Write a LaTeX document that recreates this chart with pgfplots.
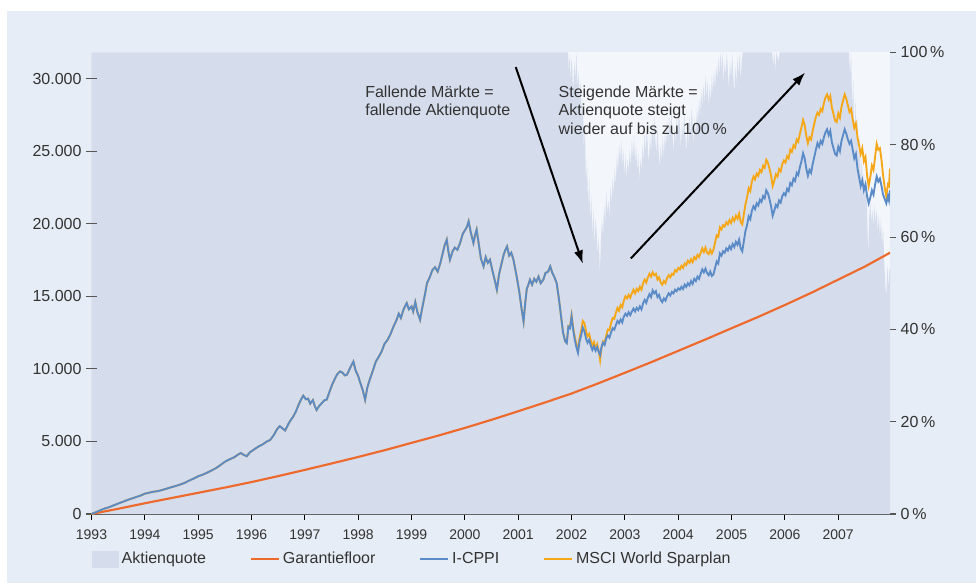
\documentclass[border=0pt]{standalone}
\usepackage{pgfplots}
\pgfplotsset{compat=1.18}
\usepackage{pgfplotstable}
\usepackage{fontspec}
\setmainfont{Liberation Sans}
\usetikzlibrary{arrows.meta}
\definecolor{panel}{HTML}{E7EDF6}
\definecolor{plotbg}{HTML}{F3F6FB}
\definecolor{quotefill}{HTML}{D5DCEB}
\definecolor{cppiblue}{HTML}{5A8BC7}
\definecolor{msciorange}{HTML}{F6A718}
\definecolor{floorred}{HTML}{EE6A2C}
\definecolor{textgray}{HTML}{333333}
\definecolor{axisgray}{HTML}{555555}

\pgfplotstableread{
x cppi msci
1993.00 0 0
1993.08 120 120
1993.17 260 260
1993.25 380 380
1993.33 470 470
1993.42 600 600
1993.50 720 720
1993.58 830 830
1993.67 960 960
1993.75 1060 1060
1993.83 1160 1160
1993.92 1270 1270
1994.00 1400 1400
1994.08 1470 1470
1994.17 1540 1540
1994.25 1580 1580
1994.33 1660 1660
1994.42 1760 1760
1994.50 1850 1850
1994.58 1930 1930
1994.67 2040 2040
1994.75 2150 2150
1994.83 2300 2300
1994.92 2450 2450
1995.00 2600 2600
1995.08 2700 2700
1995.17 2850 2850
1995.25 3000 3000
1995.33 3150 3150
1995.42 3380 3380
1995.50 3600 3600
1995.58 3750 3750
1995.67 3900 3900
1995.75 4100 4100
1995.80 4200 4200
1995.85 4080 4080
1995.91 3980 3980
1995.97 4250 4250
1996.05 4450 4450
1996.13 4650 4650
1996.21 4800 4800
1996.29 5000 5000
1996.35 5100 5100
1996.42 5450 5450
1996.48 5850 5850
1996.53 6050 6050
1996.58 5900 5900
1996.63 5750 5750
1996.69 6200 6200
1996.74 6500 6500
1996.78 6700 6700
1996.83 7050 7050
1996.88 7500 7500
1996.93 7900 7900
1996.97 8150 8150
1997.02 7900 7900
1997.06 7950 7950
1997.10 7600 7600
1997.15 7850 7850
1997.19 7400 7400
1997.22 7170 7170
1997.27 7450 7450
1997.32 7650 7650
1997.37 7850 7850
1997.41 7880 7880
1997.46 8400 8400
1997.51 8900 8900
1997.56 9300 9300
1997.61 9650 9650
1997.66 9820 9820
1997.70 9750 9750
1997.75 9550 9550
1997.79 9600 9600
1997.84 10000 10000
1997.88 10300 10300
1997.91 10500 10500
1997.95 9900 9900
1998.00 9500 9500
1998.03 9130 9130
1998.08 8600 8600
1998.13 7870 7870
1998.17 8700 8700
1998.22 9300 9300
1998.28 9930 9930
1998.33 10500 10500
1998.38 10800 10800
1998.44 11200 11200
1998.49 11700 11700
1998.55 12000 12000
1998.60 12350 12350
1998.66 12900 12900
1998.72 13380 13380
1998.76 13800 13800
1998.80 13500 13500
1998.85 14100 14100
1998.91 14530 14530
1998.95 14100 14100
1999.00 14300 14300
1999.03 13950 13950
1999.07 14600 14600
1999.11 13900 13900
1999.16 13380 13380
1999.20 14200 14200
1999.25 15100 15100
1999.29 15910 15910
1999.34 16300 16300
1999.39 16800 16800
1999.44 17000 17000
1999.49 16700 16700
1999.54 17290 17290
1999.58 17900 17900
1999.62 18500 18500
1999.66 18900 18900
1999.69 18100 18100
1999.72 17520 17520
1999.77 18100 18100
1999.81 18350 18350
1999.86 18200 18200
1999.91 18670 18670
1999.96 19300 19300
2000.01 19600 19600
2000.04 19800 19800
2000.07 20160 20160
2000.11 19400 19400
2000.16 18670 18670
2000.19 19200 19200
2000.22 19590 19590
2000.26 18600 18600
2000.30 17600 17600
2000.35 17060 17060
2000.39 17700 17700
2000.43 17300 17300
2000.47 17520 17520
2000.52 16700 16700
2000.56 16100 16100
2000.60 15450 15450
2000.64 16500 16500
2000.69 17300 17300
2000.73 17900 17900
2000.76 18200 18200
2000.79 18430 18430
2000.83 17800 17800
2000.87 18000 18000
2000.91 17520 17520
2000.97 16370 16370
2001.02 15300 15300
2001.06 14200 14200
2001.10 13260 13260
2001.13 14500 14500
2001.16 15500 15500
2001.19 15800 15800
2001.22 16140 16140
2001.26 15800 15800
2001.30 16200 16200
2001.34 16000 16000
2001.38 16350 16350
2001.42 15900 15900
2001.47 16140 16140
2001.51 16600 16600
2001.56 16700 16700
2001.60 17060 17060
2001.64 16600 16600
2001.68 16300 16300
2001.72 15910 15910
2001.76 14900 14900
2001.80 13700 13700
2001.84 12500 12500
2001.88 11900 11900
2001.91 11770 11800
2001.94 12900 12950
2001.97 12800 12900
2002.00 13600 13700
2002.03 12700 12850
2002.06 12000 12200
2002.09 11500 11700
2002.12 11100 11250
2002.15 11900 12150
2002.18 12300 12650
2002.21 12850 13300
2002.24 12600 13150
2002.27 12100 12600
2002.30 11800 12250
2002.33 12000 12400
2002.36 11600 11950
2002.39 11300 11600
2002.42 11550 11850
2002.45 11250 11400
2002.48 11500 11700
2002.51 11150 11200
2002.535 10950 10600
2002.56 11500 11400
2002.59 11800 11900
2002.62 11650 11800
2002.65 12100 12300
2002.68 12300 12700
2002.71 12150 12650
2002.74 12500 13150
2002.77 12800 13500
2002.80 12700 13450
2002.83 13000 13850
2002.86 13300 14200
2002.89 13150 14000
2002.92 13400 14400
2002.95 13200 14250
2002.98 13600 14700
2003.01 13800 15000
2003.04 13650 14850
2003.07 13900 15100
2003.10 13700 14900
2003.13 13950 15200
2003.16 14150 15450
2003.19 13950 15200
2003.22 14200 15500
2003.25 14050 15350
2003.28 14300 15650
2003.31 14100 15450
2003.34 14500 15900
2003.37 14750 16150
2003.40 14550 15950
2003.43 14900 16300
2003.46 15150 16550
2003.49 14950 16350
2003.52 15400 16650
2003.55 15200 16450
2003.58 15350 16550
2003.61 14950 16150
2003.64 15100 16300
2003.67 14750 15950
2003.70 14600 15800
2003.73 14850 16050
2003.76 14700 15900
2003.79 15000 16250
2003.82 15200 16450
2003.85 15050 16300
2003.88 15300 16550
2003.91 15200 16480
2003.94 15450 16800
2003.97 15350 16700
2004.00 15550 16950
2004.03 15450 16850
2004.06 15650 17100
2004.09 15500 16950
2004.12 15800 17250
2004.15 15650 17150
2004.18 15900 17450
2004.21 15750 17300
2004.24 16050 17550
2004.27 15850 17350
2004.30 16200 17700
2004.33 16050 17550
2004.36 16350 17850
2004.39 16200 17700
2004.42 16550 18000
2004.45 16850 18300
2004.48 16650 18050
2004.51 16900 18350
2004.54 16600 18000
2004.57 16450 17900
2004.60 16700 18200
2004.63 16400 17950
2004.66 16500 18200
2004.69 16950 18700
2004.72 17400 19200
2004.75 17250 19100
2004.78 17950 19750
2004.81 17800 19600
2004.84 18100 19900
2004.87 18000 19800
2004.90 18300 20100
2004.93 18150 19950
2004.96 18450 20250
2004.99 18250 20050
2005.02 18600 20400
2005.05 18400 20200
2005.08 18750 20550
2005.11 18550 20350
2005.14 18900 20700
2005.17 18300 20100
2005.20 18100 19950
2005.23 18800 20650
2005.26 19500 21350
2005.29 19900 21800
2005.32 20500 22450
2005.35 20300 22250
2005.38 20900 22900
2005.41 21200 23250
2005.44 21000 23050
2005.47 21400 23450
2005.50 21250 23300
2005.53 21650 23700
2005.56 21500 23550
2005.59 21900 24000
2005.62 21750 23850
2005.65 22300 24400
2005.68 22100 24200
2005.71 21700 23800
2005.74 21200 23300
2005.77 20550 22600
2005.80 20900 22950
2005.83 21300 23400
2005.86 21150 23250
2005.89 21600 23750
2005.92 21450 23600
2005.95 21900 24100
2005.98 22100 24350
2006.01 21950 24200
2006.04 22400 24650
2006.07 22250 24500
2006.10 22800 25100
2006.13 22650 24950
2006.16 23100 25400
2006.19 22950 25250
2006.22 23500 25800
2006.25 23350 25650
2006.28 23900 26200
2006.31 24300 26650
2006.34 24850 27150
2006.37 24500 26800
2006.40 23800 26050
2006.43 23300 25550
2006.46 23700 25950
2006.49 23500 25800
2006.52 24100 26400
2006.55 24600 26900
2006.58 25100 27350
2006.61 25550 27650
2006.64 25300 27500
2006.67 25700 27900
2006.70 25500 27750
2006.73 25950 28300
2006.76 26300 28700
2006.79 26500 28900
2006.82 26100 28550
2006.85 26400 28800
2006.88 25600 28000
2006.91 25200 27550
2006.94 24800 27100
2006.97 24700 27000
2007.00 25300 27600
2007.03 25000 27300
2007.06 25700 28050
2007.09 26100 28500
2007.12 26500 28900
2007.15 26200 28600
2007.18 25800 28150
2007.21 25500 27700
2007.24 25700 27900
2007.27 25100 27200
2007.30 24500 26600
2007.33 24800 26900
2007.36 23800 25950
2007.39 23200 25400
2007.42 22600 24800
2007.45 23000 25200
2007.48 22300 24300
2007.51 22700 24600
2007.54 21900 23300
2007.57 21400 22600
2007.60 21800 23200
2007.63 22300 24000
2007.66 22000 23700
2007.69 22700 24600
2007.72 23250 25500
2007.75 22900 25100
2007.78 23100 25200
2007.81 22600 24400
2007.84 22000 23300
2007.87 21700 22500
2007.90 21400 21900
2007.93 21900 22700
2007.95 21600 22600
2007.97 22300 23800
}\linesdata

\pgfplotstableread{
x f
1993.0 0
1993.5 360
1994.0 740
1994.5 1100
1995.0 1460
1995.5 1820
1996.0 2200
1996.5 2610
1997.0 3040
1997.5 3480
1998.0 3930
1998.5 4400
1999.0 4900
1999.5 5400
2000.0 5930
2000.5 6490
2001.0 7080
2001.5 7680
2002.0 8300
2002.5 9000
2003.0 9730
2003.5 10470
2004.0 11240
2004.5 12010
2005.0 12800
2005.5 13580
2006.0 14400
2006.5 15250
2007.0 16150
2007.5 17050
2007.97 18000
}\floordata

\pgfplotstableread{
x q
1993.00 100
2001.93 100
2001.95 96
2001.96 100
2001.98 93
2001.99 99
2002.01 97
2002.03 91
2002.05 98
2002.07 94
2002.09 100
2002.11 92
2002.13 96
2002.15 89
2002.17 94
2002.19 85
2002.21 90
2002.23 79
2002.25 84
2002.27 71
2002.29 77
2002.31 66
2002.33 73
2002.35 63
2002.37 69
2002.39 60
2002.41 66
2002.43 58
2002.45 64
2002.47 61
2002.49 56
2002.51 60
2002.53 52
2002.55 59
2002.57 64
2002.59 60
2002.61 67
2002.63 63
2002.65 70
2002.67 65
2002.69 68
2002.71 64
2002.73 71
2002.75 67
2002.77 73
2002.79 69
2002.81 75
2002.83 71
2002.85 78
2002.87 74
2002.89 80
2002.91 76
2002.93 81
2002.95 75
2002.97 79
2002.99 73
2003.01 78
2003.03 72
2003.05 77
2003.07 74
2003.09 79
2003.11 75
2003.13 81
2003.15 77
2003.17 82
2003.19 76
2003.21 80
2003.23 74
2003.25 78
2003.27 72
2003.29 77
2003.31 74
2003.33 80
2003.35 76
2003.37 83
2003.39 78
2003.41 84
2003.43 79
2003.45 76
2003.47 82
2003.49 78
2003.51 85
2003.53 80
2003.55 86
2003.57 81
2003.59 78
2003.61 84
2003.63 79
2003.65 75
2003.67 80
2003.69 76
2003.71 82
2003.73 77
2003.75 83
2003.77 79
2003.79 85
2003.81 80
2003.83 86
2003.85 82
2003.87 87
2003.89 83
2003.91 78
2003.93 84
2003.95 80
2003.97 86
2003.99 82
2004.01 88
2004.03 84
2004.05 79
2004.07 85
2004.09 81
2004.11 87
2004.13 83
2004.15 78
2004.17 84
2004.19 80
2004.21 86
2004.23 82
2004.25 88
2004.27 84
2004.29 80
2004.31 86
2004.33 82
2004.35 88
2004.37 85
2004.39 90
2004.41 86
2004.43 92
2004.45 88
2004.47 93
2004.49 89
2004.51 95
2004.53 90
2004.55 94
2004.57 88
2004.59 93
2004.61 89
2004.63 95
2004.65 91
2004.67 96
2004.69 92
2004.71 97
2004.73 94
2004.75 99
2004.77 95
2004.79 100
2004.81 96
2004.83 100
2004.85 93
2004.87 98
2004.89 95
2004.91 100
2004.93 96
2004.95 92
2004.97 98
2004.99 94
2005.01 100
2005.03 95
2005.05 91
2005.07 97
2005.09 93
2005.11 99
2005.13 95
2005.15 100
2005.17 94
2005.19 98
2005.21 100
2005.76 100
2005.78 97
2005.80 100
2005.82 96
2005.84 100
2005.88 98
2005.90 100
2007.20 100
2007.22 95
2007.24 100
2007.26 88
2007.28 94
2007.30 82
2007.32 90
2007.34 80
2007.36 86
2007.38 76
2007.40 82
2007.42 72
2007.44 77
2007.46 70
2007.48 74
2007.50 68
2007.52 72
2007.54 65
2007.56 56
2007.58 64
2007.60 68
2007.62 63
2007.64 66
2007.66 62
2007.68 67
2007.70 63
2007.72 66
2007.74 61
2007.76 65
2007.78 60
2007.80 64
2007.82 58
2007.84 62
2007.86 55
2007.88 50
2007.90 47
2007.92 54
2007.94 49
2007.96 53
2007.97 53
}\quotedata

\begin{document}
\begin{tikzpicture}
\path[use as bounding box] (0,0) rectangle (732pt,437.25pt);
\fill[white] (0,0) rectangle (732pt,437.25pt);
\fill[panel] (5.25pt,0) rectangle (732pt,429pt);

% right axis: Aktienquote, also carries the x axis
\begin{axis}[
  at={(68.625pt,51.75pt)}, anchor=south west,
  scale only axis, width=598.9pt, height=346.2pt,
  xmin=1993, xmax=2007.97, ymin=0, ymax=100,
  axis x line*=bottom, axis y line*=right,
  x axis line style={draw=axisgray, line width=1pt, -},
  y axis line style={draw=none},
  axis background/.style={fill=plotbg},
  tick align=outside, major tick length=4.5pt,
  xtick={1993,1994,...,2007},
  xticklabel style={/pgf/number format/1000 sep={}, font=\fontsize{10.5}{12}\selectfont, text=textgray, yshift=-3.5pt},
  xtick style={draw=black, line width=0.8pt},
  ytick={0,20,40,60,80,100},
  yticklabel={\pgfmathprintnumber{\tick}\,\%},
  yticklabel style={font=\fontsize{12}{14}\selectfont, text=textgray},
  ytick style={draw=axisgray, line width=0.8pt},
  /pgf/number format/assume math mode=true,
]
\addplot[fill=quotefill, draw=none] table[x=x, y=q] {\quotedata} \closedcycle;
\end{axis}

% left axis: values
\begin{axis}[
  at={(68.625pt,51.75pt)}, anchor=south west,
  scale only axis, width=598.9pt, height=346.2pt,
  xmin=1993, xmax=2007.97, ymin=0, ymax=31800,
  hide x axis, axis y line*=left,
  y axis line style={draw=none},
  tick align=center, major tick length=8pt,
  ytick={0,5000,...,30000},
  scaled y ticks=false,
  yticklabel style={/pgf/number format/1000 sep={.}, font=\fontsize{12}{14}\selectfont, text=textgray},
  ytick style={draw=axisgray, line width=0.8pt},
  /pgf/number format/assume math mode=true,
  legend columns=4,
  legend style={at={(0,-0.097)}, anchor=west, draw=none, fill=none,
    font=\fontsize{12}{14}\selectfont, text=textgray, inner xsep=0pt,
    /tikz/every even column/.append style={column sep=31pt}},
  legend cell align=left,
  legend image code/.code={\draw[#1] (0pt,0pt) -- (21pt,0pt);},
]
\addlegendimage{legend image code/.code={\fill[quotefill] (0pt,-6pt) rectangle (20pt,6pt);}}
\addlegendentry{Aktienquote}
\addplot[floorred, line width=1.6pt] table[x=x, y=f] {\floordata};
\addlegendentry{Garantiefloor}
\addlegendimage{cppiblue, line width=1.6pt}
\addlegendentry{I-CPPI\hspace{10pt}}
\addlegendimage{msciorange, line width=1.6pt}
\addlegendentry{MSCI World Sparplan}
\addplot[msciorange, line width=1.4pt, forget plot] table[x=x, y=msci] {\linesdata};
\addplot[cppiblue, line width=1.4pt, forget plot] table[x=x, y=cppi] {\linesdata};

\draw[line width=1.5pt, -{Latex[length=10pt, width=7pt]}] (axis cs:2000.954,30785) -- (axis cs:2002.211,17238);
\draw[line width=1.5pt, -{Latex[length=10pt, width=7pt]}] (axis cs:2003.111,17603) -- (axis cs:2006.379,30413);

\node[anchor=base west, inner sep=0pt, text=textgray, font=\fontsize{12}{14}\selectfont] at (axis cs:1998.128,28717) {Fallende Märkte =};
\node[anchor=base west, inner sep=0pt, text=textgray, font=\fontsize{12}{14}\selectfont] at (axis cs:1998.128,27431) {fallende Aktienquote};
\node[anchor=base west, inner sep=0pt, text=textgray, font=\fontsize{12}{14}\selectfont] at (axis cs:2001.753,28717) {Steigende Märkte =};
\node[anchor=base west, inner sep=0pt, text=textgray, font=\fontsize{12}{14}\selectfont] at (axis cs:2001.753,27431) {Aktienquote steigt};
\node[anchor=base west, inner sep=0pt, text=textgray, font=\fontsize{12}{14}\selectfont] at (axis cs:2001.753,26170) {wieder auf bis zu 100\,\%};
\end{axis}
\end{tikzpicture}
\end{document}
